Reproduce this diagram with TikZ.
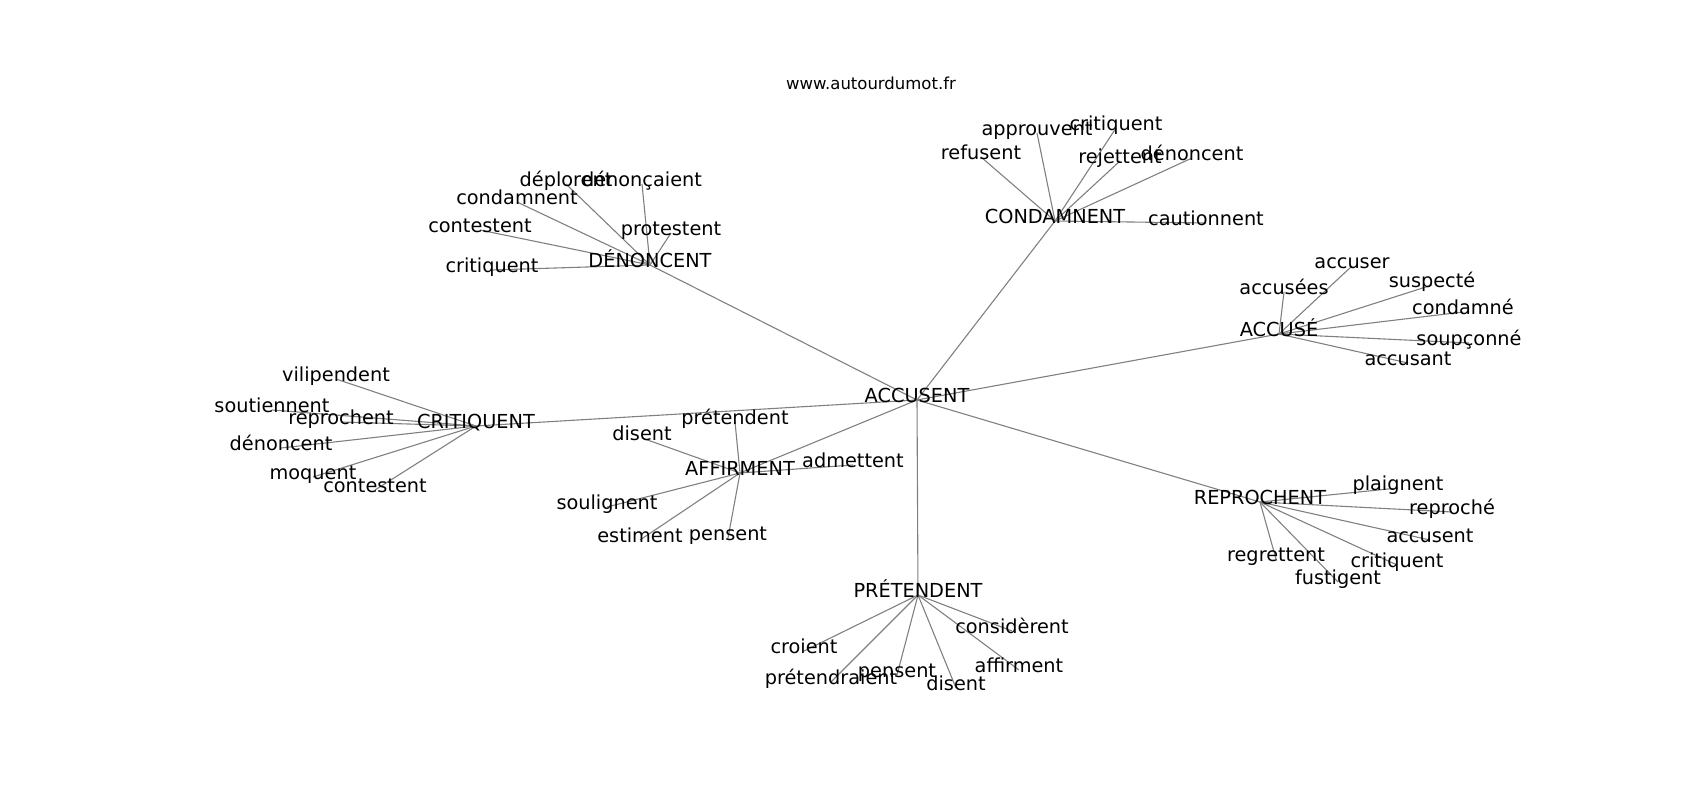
\documentclass[tikz,border=0pt]{standalone}
\usepackage{fontspec}
\setmainfont{DejaVu Sans}
\usetikzlibrary{backgrounds}

\begin{document}
\begin{tikzpicture}[x=1pt,y=-1pt,
                   word/.style={font=\fontsize{19.3}{23}\selectfont,text height=0.75em,text depth=0.25em,inner sep=0pt},
                   edge/.style={draw=black!50,line width=1.1pt}]
\useasboundingbox (0,-3) rectangle (1700,797);
\node[font=\fontsize{16.5}{19}\selectfont] (site) at (871,80) {www.autourdumot.fr};
\node[word] (accusent) at (917,397) {ACCUSENT};
\node[word] (denoncent) at (650,262) {DÉNONCENT};
\node[word] (dn1) at (492,267) {critiquent};
\node[word] (dn2) at (480,227) {contestent};
\node[word] (dn3) at (517,199) {condamnent};
\node[word] (dn4) at (566,181) {déplorent};
\node[word] (dn5) at (642,181) {dénonçaient};
\node[word] (dn6) at (671,230) {protestent};
\node[word] (condamnent) at (1055,218) {CONDAMNENT};
\node[word] (cd1) at (1037,130) {approuvent};
\node[word] (cd2) at (1116,125) {critiquent};
\node[word] (cd3) at (981,154) {refusent};
\node[word] (cd4) at (1120,158) {rejettent};
\node[word] (cd5) at (1192,155) {dénoncent};
\node[word] (cd6) at (1206,220) {cautionnent};
\node[word] (accuse) at (1279,331) {ACCUSÉ};
\node[word] (ac1) at (1352,263) {accuser};
\node[word] (ac2) at (1284,289) {accusées};
\node[word] (ac3) at (1432,282) {suspecté};
\node[word] (ac4) at (1463,309) {condamné};
\node[word] (ac5) at (1469,340) {soupçonné};
\node[word] (ac6) at (1408,360) {accusant};
\node[word] (critiquent) at (476,423) {CRITIQUENT};
\node[word] (cr1) at (336,376) {vilipendent};
\node[word] (cr2) at (272,407) {soutiennent};
\node[word] (cr3) at (341,419) {reprochent};
\node[word] (cr4) at (281,445) {dénoncent};
\node[word] (cr5) at (313,474) {moquent};
\node[word] (cr6) at (375,487) {contestent};
\node[word] (affirment) at (740,470) {AFFIRMENT};
\node[word] (af1) at (735,419) {prétendent};
\node[word] (af2) at (642,435) {disent};
\node[word] (af3) at (853,462) {admettent};
\node[word] (af4) at (607,504) {soulignent};
\node[word] (af5) at (640,537) {estiment};
\node[word] (af6) at (728,535) {pensent};
\node[word] (reprochent) at (1260,499) {REPROCHENT};
\node[word] (rp1) at (1398,485) {plaignent};
\node[word] (rp2) at (1452,509) {reproché};
\node[word] (rp3) at (1430,537) {accusent};
\node[word] (rp4) at (1276,556) {regrettent};
\node[word] (rp5) at (1397,562) {critiquent};
\node[word] (rp6) at (1338,579) {fustigent};
\node[word] (pretendent) at (918,592) {PRÉTENDENT};
\node[word] (pr1) at (1012,628) {considèrent};
\node[word] (pr2) at (804,648) {croient};
\node[word] (pr3) at (1019,667) {affirment};
\node[word] (pr4) at (831,679) {prétendraient};
\node[word] (pr5) at (897,672) {pensent};
\node[word] (pr6) at (956,685) {disent};
\begin{scope}[on background layer]
\foreach \hub in {denoncent,condamnent,accuse,critiquent,affirment,reprochent,pretendent}
  \draw[edge] (accusent.center) -- (\hub.center);
\foreach \hub/\p in {denoncent/dn,condamnent/cd,accuse/ac,critiquent/cr,affirment/af,reprochent/rp,pretendent/pr}
  \foreach \i in {1,...,6}
    \draw[edge] (\hub.center) -- (\p\i.center);
\end{scope}
\end{tikzpicture}
\end{document}
